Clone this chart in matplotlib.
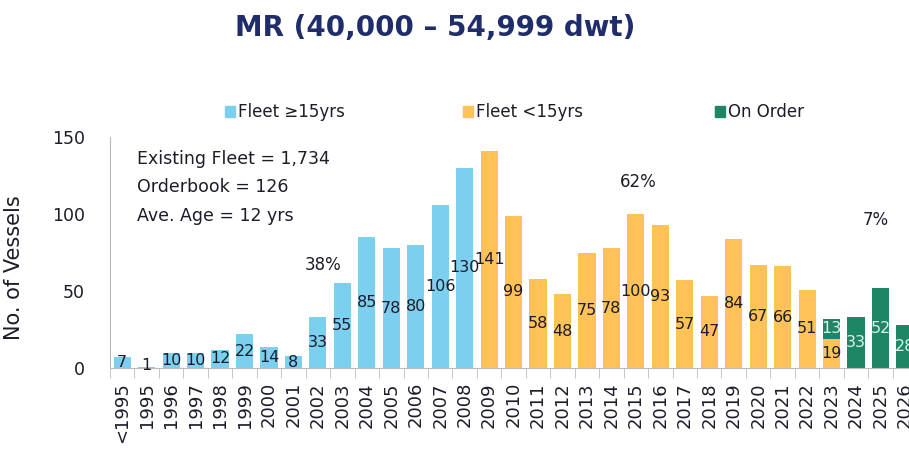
import numpy as np
import matplotlib
matplotlib.use('Agg')
from matplotlib import pyplot as plt
from matplotlib.patches import Patch

# categories (build year) and series values
years = ['<1995', '1995', '1996', '1997', '1998', '1999', '2000', '2001', '2002',
         '2003', '2004', '2005', '2006', '2007', '2008', '2009', '2010', '2011',
         '2012', '2013', '2014', '2015', '2016', '2017', '2018', '2019', '2020',
         '2021', '2022', '2023', '2024', '2025', '2026']
fleet_old = [7, 1, 10, 10, 12, 22, 14, 8, 33, 55, 85, 78, 80, 106, 130,
             0, 0, 0, 0, 0, 0, 0, 0, 0, 0, 0, 0, 0, 0, 0, 0, 0, 0]
fleet_young = [0, 0, 0, 0, 0, 0, 0, 0, 0, 0, 0, 0, 0, 0, 0,
               141, 99, 58, 48, 75, 78, 100, 93, 57, 47, 84, 67, 66, 51, 19, 0, 0, 0]
on_order = [0, 0, 0, 0, 0, 0, 0, 0, 0, 0, 0, 0, 0, 0, 0,
            0, 0, 0, 0, 0, 0, 0, 0, 0, 0, 0, 0, 0, 0, 13, 33, 52, 28]
pct_labels = [('38%', 8.2, 67), ('62%', 21.1, 121), ('7%', 30.8, 96)]
info_lines = ['Existing Fleet = 1,734', 'Orderbook = 126', 'Ave. Age = 12 yrs']

c_old = '#7DCFEF'
c_young = '#FFC259'
c_order = '#1E8667'
txt = '#1c1c2a'

fig = plt.figure(figsize=(9.09, 4.49), dpi=100)
ax = fig.add_axes([0.121, 0.180, 0.888, 0.515])

x = np.arange(len(years))
old = np.array(fleet_old)
young = np.array(fleet_young)
order = np.array(on_order)
w = 0.7

ax.bar(x, old, w, color=c_old)
ax.bar(x, young, w, color=c_young)
ax.bar(x, order, w, bottom=young, color=c_order)

for i in range(len(years)):
    if old[i] > 0:
        ax.text(x[i], max(old[i] / 2, 2), str(old[i]), ha='center', va='center',
                fontsize=11.5, color=txt)
    if young[i] > 0:
        ax.text(x[i], young[i] / 2, str(young[i]), ha='center', va='center',
                fontsize=11.5, color=txt)
    if order[i] > 0:
        ax.text(x[i], young[i] + order[i] / 2, str(order[i]), ha='center', va='center',
                fontsize=11.5, color='#d8f0ec')

for s, px, py in pct_labels:
    ax.text(px, py, s, ha='center', va='center', fontsize=12, color=txt)

for k, line in enumerate(info_lines):
    ax.text(0.6, 136 - k * 18.5, line, ha='left', va='center', fontsize=12.5, color=txt)

ax.set_xlim(-0.5, len(years) - 0.5)
ax.set_ylim(0, 150)
ax.set_yticks([0, 50, 100, 150])
ax.tick_params(axis='y', length=0, labelsize=12.5, labelcolor=txt, pad=18)
ax.set_xticks(x)
ax.set_xticklabels(years, rotation=90, fontsize=13, color=txt)
ax.tick_params(axis='x', length=0, pad=10)
ax.set_xticks(np.arange(-0.5, len(years), 1), minor=True)
ax.tick_params(axis='x', which='minor', length=7, color='#bbbbbb')
for sp in ['top', 'right']:
    ax.spines[sp].set_visible(False)
ax.spines['left'].set_color('#bbbbbb')
ax.spines['bottom'].set_color('#bbbbbb')
ax.set_ylabel('No. of Vessels', fontsize=15, color=txt)
ax.yaxis.set_label_coords(-0.107, 0.437)

# legend entries are spread apart in the original
for lab, col, lx in [('Fleet \u226515yrs', c_old, 0.231), ('Fleet <15yrs', c_young, 0.493),
                     ('On Order', c_order, 0.770)]:
    fig.legend(handles=[Patch(color=col)], labels=[lab], loc='center left',
               bbox_to_anchor=(lx, 0.75), frameon=False, fontsize=12,
               handlelength=0.6, handleheight=0.6, handletextpad=0.2,
               labelcolor=txt)

fig.text(0.4785, 0.937, 'MR (40,000 \u2013 54,999 dwt)', ha='center', va='center',
         fontsize=20, fontweight='bold', color='#1F2D6B')

fig.savefig('out.png', dpi=100)
